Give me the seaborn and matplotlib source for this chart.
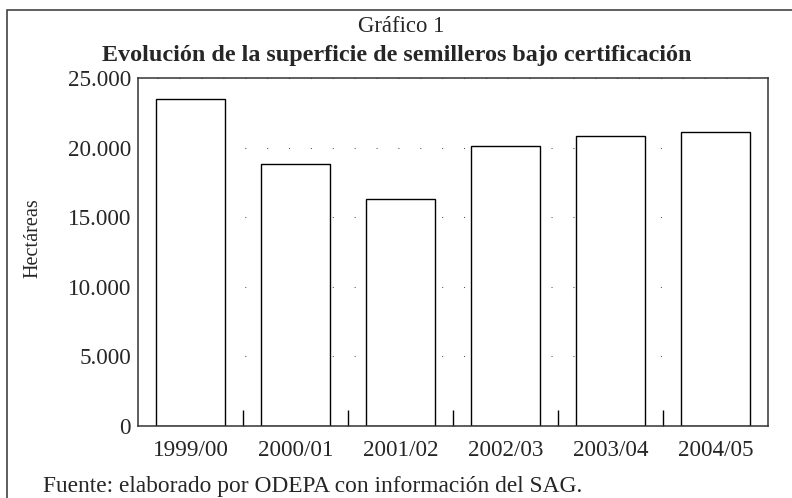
import numpy as np
import pandas as pd
import seaborn as sns
import matplotlib.pyplot as plt
from matplotlib.patches import Rectangle

# data
temporadas = ["1999/00", "2000/01", "2001/02", "2002/03", "2003/04", "2004/05"]
hectareas = [23500, 18800, 16300, 20100, 20800, 21100]
y_ticks = [0, 5000, 10000, 15000, 20000, 25000]
y_labels = ["0", "5.000", "10.000", "15.000", "20.000", "25.000"]

df = pd.DataFrame({"temporada": temporadas, "hectareas": hectareas})

sns.set_style("white")
plt.rcParams['font.family'] = ['Liberation Serif', 'DejaVu Serif']

fig = plt.figure(figsize=(7.92, 4.98), dpi=100)
ax = fig.add_axes([138/792, 1 - 426/498, 630/792, 348/498])

sns.barplot(data=df, x="temporada", y="hectareas", color="white",
            edgecolor="black", linewidth=1.0, width=0.65, saturation=1, ax=ax)

ax.set_ylim(0, 25000)
ax.set_xlim(-0.5, len(temporadas) - 0.5)
ax.set_yticks(y_ticks)
ax.set_yticklabels(y_labels, fontsize=16.7)
ax.tick_params(axis="y", length=0, pad=5)
ax.tick_params(axis="x", which="major", length=0, labelsize=16.7, pad=10)

# small inward ticks between the categories
ax.set_xticks(np.arange(0.5, len(temporadas) - 0.5), minor=True)
ax.tick_params(axis="x", which="minor", bottom=True, direction="in",
               length=11.5, width=1.0, color="black")

# dotted grid
ax.set_axisbelow(True)
ax.yaxis.grid(True, color="#555555", linewidth=0.75,
              linestyle=(2.5, (1, 20)))

for s in ax.spines.values():
    s.set_visible(True)
    s.set_color("#333333")
    s.set_linewidth(1.1)

ax.set_xlabel("")
ax.set_ylabel("Hectáreas", fontsize=14.6)
ax.yaxis.set_label_coords(-0.152, 0.54)

fig.text(401/792, 1 - 26/498, "Gráfico 1", ha="center", va="center", fontsize=16.4)
fig.text(397/792, 1 - 56/498,
         "Evolución de la superficie de semilleros bajo certificación",
         ha="center", va="center", fontsize=17.4, fontweight="bold")
fig.text(43/792, 1 - 486/498, "Fuente: elaborado por ODEPA con información del SAG.",
         ha="left", va="center", fontsize=16.8)

# outer frame
fig.patches.append(Rectangle((7/792, -0.05), 1.0, 0.05 + 1 - 10/498,
                             transform=fig.transFigure, fill=False,
                             edgecolor="#333333", linewidth=1.1))

fig.savefig("out.png", dpi=100)
